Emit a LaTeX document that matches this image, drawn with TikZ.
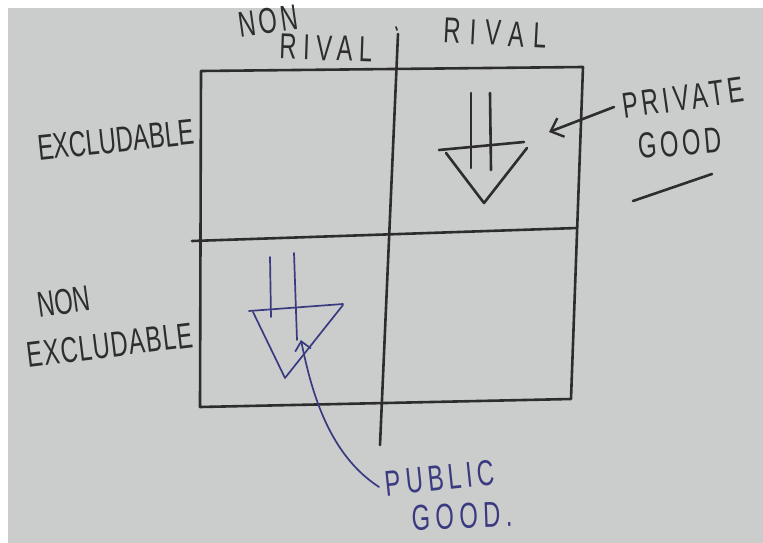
\documentclass[tikz,border=0pt]{standalone}
\usepackage{fontspec}
\newfontfamily\handfont[FakeStretch=0.66]{Liberation Sans}
\usetikzlibrary{arrows.meta}
\definecolor{board}{RGB}{203,205,204}
\definecolor{pen}{RGB}{45,45,45}
\definecolor{bluepen}{RGB}{58,58,128}
\begin{document}
\begin{tikzpicture}[x=1pt,y=-1pt,
  ink/.style={draw=pen,line width=2.6pt,line cap=round,line join=round},
  blueink/.style={draw=bluepen,line width=1.7pt,line cap=round,line join=round},
  hand/.style={font=\handfont\fontsize{36}{36}\selectfont\addfontfeatures{LetterSpace=#1},text=pen,inner sep=0pt},
  hand/.default=0,
  bluehand/.style={hand=#1,text=bluepen},
  bluehand/.default=0]
\useasboundingbox (0,0) rectangle (763,543);
\fill[white] (0,0) rectangle (763,543);
\fill[board] (8,8) rectangle (763,543);

% grid
\coordinate (tl) at (201,71);
\coordinate (tr) at (583,67);
\coordinate (br) at (571,399);
\coordinate (bl) at (200,407);
\coordinate (ml) at (192,241);
\coordinate (mr) at (577,228);
\coordinate (vt) at (398,34);
\coordinate (vb) at (380,445);
\draw[ink] (tl) -- (tr) -- (br) -- (bl) -- cycle;
\draw[ink] (ml) -- (mr);
\draw[ink] (vt) -- (vb);
\draw[ink,line width=1.6pt] (396,27) -- (397,30);

% headings
\node[hand=10,rotate=8] (nonr) at (268,21) {NON};
\node[hand=18,rotate=-2] (rivl) at (326,48) {RIVAL};
\node[hand=25,rotate=-3] (rivr) at (495,33) {RIVAL};
\node[hand,rotate=6] (excl) at (116,140) {EXCLUDABLE};
\node[hand,rotate=8] (nonx) at (64,302) {NON};
\node[hand=3,rotate=7] (nexcl) at (110,345) {EXCLUDABLE};
\node[hand=11,rotate=8] (priv) at (683,98) {PRIVATE};
\node[hand=10,rotate=5] (pgood) at (680,143) {GOOD};
\node[bluehand=13,rotate=6] (publ) at (440,478) {PUBLIC};
\node[bluehand=15,rotate=2] (ugood) at (462,516) {GOOD.};

% underline
\draw[ink] (633,201) -- (712,174);

% private good symbol
\draw[ink] (471,93) -- (471,168);
\draw[ink] (490,93) -- (491,170);
\draw[ink] (439,150) -- (524,142);
\draw[ink] (446,153) -- (484,203) -- (527,148);

% arrow to private good
\coordinate (pa) at (614,107);
\coordinate (ptip) at (549,132);
\draw[ink,-{Straight Barb[length=11pt,width=20pt,line width=2.4pt]}] (pa) -- (ptip);

% public good symbol
\draw[blueink] (270,257) -- (271,317);
\draw[blueink] (294,253) -- (297,340);
\draw[blueink] (249,311) -- (343,304);
\draw[blueink] (253,312) -- (285,378) -- (343,305);

% curve to public good
\coordinate (ua) at (379,487);
\coordinate (utip) at (301,340);
\draw[blueink,-{Straight Barb[length=9pt,width=16pt,line width=1.7pt]}] (ua) .. controls (330,455) and (312,395) .. (utip);
\end{tikzpicture}
\end{document}
